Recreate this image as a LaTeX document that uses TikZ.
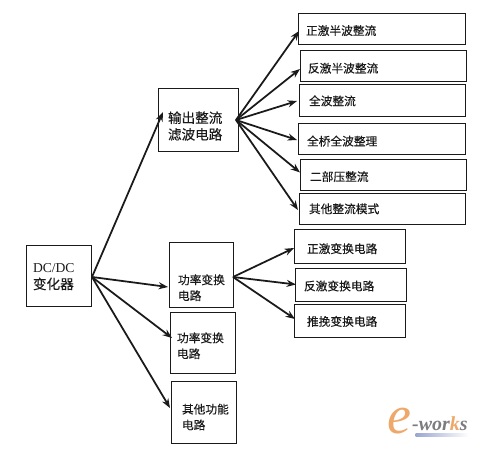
\documentclass[tikz,border=0pt]{standalone}
\usepackage{fontspec}
\setmainfont{Noto Sans CJK SC}[FakeBold=0.25]
\newfontfamily\latinfont{Liberation Serif}
\usetikzlibrary{arrows.meta}
\definecolor{inkgrey}{HTML}{1A1A1A}
\definecolor{logoorange}{HTML}{EDA86A}
\definecolor{logogrey}{HTML}{7C7C80}
\definecolor{logoblue}{HTML}{9AA6D0}

\begin{document}
\begin{tikzpicture}[
    x=0.03cm, y=-0.03cm,
    % width, height, left pad (px), text height (pt)
    block/.style n args={4}{
        draw=inkgrey, line width=0.8pt, outer sep=0pt, text=inkgrey,
        text width={0.03cm*(#1-2*#3)}, inner xsep={0.03cm*#3}, inner ysep=0pt,
        minimum height={0.03cm*#2}, align=left, text height=#4,
    },
    small/.style={font=\fontsize{10}{13.5}\selectfont},
    big/.style={font=\fontsize{11.6}{14.2}\selectfont},
    arr/.style={-{Stealth[length=8pt,width=6pt]}, line width=1.5pt, color=inkgrey},
]
\useasboundingbox (0,0) rectangle (479,449);

% ── Root ──
\node[block={65}{61}{7}{10pt}, big] (dcdc) at (58.5,275.5) {{\latinfont DC/DC}\\变化器};

% ── Second level ──
\node[block={80}{63}{10}{21pt}, big] (output) at (198,119.5) {输出整流\\滤波电路};
\node[block={64}{65}{9}{31pt}, small] (powerA) at (201,274.5) {功率变换\\电路};
\node[block={65}{61}{7}{14pt}, small] (powerB) at (202.5,342.5) {功率变换\\电路};
\node[block={65}{62}{11}{17pt}, small] (other) at (203.5,412) {其他功能\\电路};

% ── Rectifier modes ──
\node[block={167}{31}{8}{12pt}, small] (forwardR) at (381.5,28.5) {正激半波整流};
\node[block={166}{31}{8}{13pt}, small] (flybackR) at (383,65.5) {反激半波整流};
\node[block={166}{32}{10}{10pt}, small] (fullR) at (382,100) {全波整流};
\node[block={167}{31}{9}{13pt}, small] (bridgeR) at (381.5,138.5) {全桥全波整理};
\node[block={166}{31}{10}{12pt}, small] (doublerR) at (383,174.5) {二部压整流};
\node[block={166}{31}{10}{9pt}, small] (otherR) at (382,208.5) {其他整流模式};

% ── Converter circuits ──
\node[block={111}{34}{13}{13pt}, small] (forwardC) at (349.5,246) {正激变换电路};
\node[block={111}{33}{9}{11pt}, small] (flybackC) at (350.5,284.5) {反激变换电路};
\node[block={111}{33}{13}{10pt}, small] (pushC) at (349.5,320.5) {推挽变换电路};

% ── Arrows ──
\draw[arr] ([shift={(1,1.5)}]dcdc.east) -- ([shift={(5,-7.5)}]output.west);
\draw[arr] ([shift={(1,1.5)}]dcdc.east) -- ([shift={(-1,12.5)}]powerA.west);
\draw[arr] ([shift={(1,1.5)}]dcdc.east) -- ([shift={(2,-4.5)}]powerB.west);
\draw[arr] ([shift={(1,1.5)}]dcdc.east) -- ([shift={(-1,-4)}]other.west);

\draw[arr] ([shift={(-2,0.5)}]output.east) -- ([shift={(1,2.5)}]forwardR.west);
\draw[arr] ([shift={(-2,0.5)}]output.east) -- ([shift={(0,3.5)}]flybackR.west);
\draw[arr] ([shift={(-2,0.5)}]output.east) -- ([shift={(-2,1)}]fullR.west);
\draw[arr] ([shift={(-2,0.5)}]output.east) -- ([shift={(-1,1.5)}]bridgeR.west);
\draw[arr] ([shift={(-2,0.5)}]output.east) -- ([shift={(0,-2)}]doublerR.west);
\draw[arr] ([shift={(-2,0.5)}]output.east) -- ([shift={(-1,1.5)}]otherR.west);

\draw[arr] ([shift={(0,2.5)}]powerA.east) -- ([shift={(0,2)}]forwardC.west);
\draw[arr] ([shift={(0,2.5)}]powerA.east) -- ([shift={(1,0)}]flybackC.west);
\draw[arr] ([shift={(0,2.5)}]powerA.east) -- ([shift={(1,-1.5)}]pushC.west);

% ── Logo ──
\node[font=\latinfont\itshape\fontsize{46}{46}\selectfont, text=logoorange, inner sep=0pt] (logoE) at (399,421) {e};
\node[font=\latinfont\bfseries\itshape\fontsize{17}{17}\selectfont, inner sep=0pt, anchor=west] (logoText) at (412,424)
    {\textcolor{logogrey}{-wor}\textcolor{logoorange}{k}\textcolor{logogrey}{s}};
\node[minimum width=1.59cm, minimum height=0.1cm, inner sep=0pt, left color=logoblue, right color=white] (logoBar) at (442,435) {};
\end{tikzpicture}
\end{document}
